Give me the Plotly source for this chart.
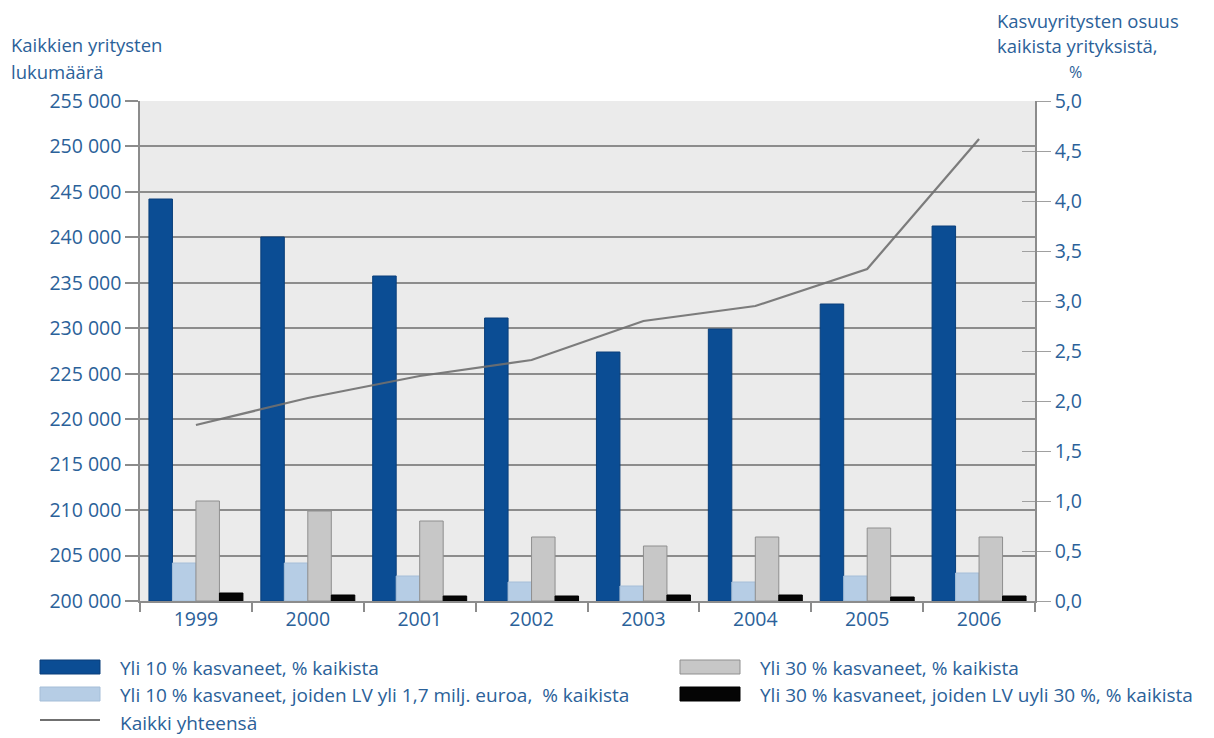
import plotly.graph_objects as go

years = ["1999", "2000", "2001", "2002", "2003", "2004", "2005", "2006"]
yli10 = [4.02, 3.64, 3.25, 2.83, 2.49, 2.72, 2.97, 3.75]
yli10_lv = [0.38, 0.38, 0.25, 0.19, 0.15, 0.19, 0.25, 0.28]
yli30 = [1.00, 0.90, 0.80, 0.64, 0.55, 0.64, 0.73, 0.64]
yli30_lv = [0.08, 0.06, 0.05, 0.05, 0.06, 0.06, 0.04, 0.05]
kaikki = [219360, 222330, 224750, 226510, 230800, 232450, 236520, 250820]

names = [
    "Yli 10 % kasvaneet, % kaikista",
    "Yli 10 % kasvaneet, joiden LV yli 1,7 milj. euroa,  % kaikista",
    "Yli 30 % kasvaneet, % kaikista",
    "Yli 30 % kasvaneet, joiden LV uyli 30 %, % kaikista",
    "Kaikki yhteensä",
]
colors = ["#0b4d94", "#b6cde5", "#c7c7c7", "#050505"]
outlines = ["#0a3f7a", "#a5bed8", "#8f8f8f", "#000000"]

W, H = 1214, 738
L, R, T, B = 140, 1035, 101, 601
TXT = "#2b6199"
FONT = "Open Sans"
GRID = "#8c8c8c"
FS = 19.5
TFS = 18.5
LFS = 19


def px(x):
    return (x - L) / (R - L)


def py(y):
    return (B - y) / (B - T)


fig = go.Figure()
for vals, nm, c, oc in zip([yli10, yli10_lv, yli30, yli30_lv], names[:4], colors, outlines):
    fig.add_trace(go.Bar(x=years, y=vals, name=nm, yaxis="y",
                         marker=dict(color=c, line=dict(color=oc, width=1)),
                         showlegend=False))

fig.add_trace(go.Scatter(x=years, y=kaikki, name=names[4], yaxis="y2",
                         mode="lines", line=dict(color="#707070", width=2.2),
                         opacity=0.9, showlegend=False))

fig.update_layout(
    width=W, height=H,
    margin=dict(l=L, r=W - R, t=T, b=H - B),
    paper_bgcolor="white", plot_bgcolor="#ebebeb",
    separators=", ",
    font=dict(family=FONT, size=FS, color=TXT),
    barmode="group", bargap=0.16, bargroupgap=0,
    xaxis=dict(type="category", showline=True, linecolor=GRID, linewidth=1.5,
               ticks="outside", tickson="boundaries", ticklen=9, tickcolor=GRID,
               tickwidth=1.5, showgrid=False, tickfont=dict(size=FS, color=TXT)),
    yaxis=dict(side="right", range=[0, 5], dtick=0.5, tickformat=".1f",
               showgrid=False, showline=True, linecolor=GRID, linewidth=1.5,
               ticks="outside", ticklen=14, tickcolor="#a0a0a0", tickwidth=1,
               tickfont=dict(size=FS, color=TXT), zeroline=False),
    yaxis2=dict(side="left", overlaying="y", range=[200000, 255000], dtick=5000,
                tickformat=",d", showgrid=True, gridcolor=GRID, gridwidth=1.5,
                showline=True, linecolor=GRID, linewidth=1.5,
                ticks="outside", ticklen=13, tickcolor=GRID, tickwidth=1.5,
                tickfont=dict(size=FS, color=TXT), zeroline=False),
    yaxis3=dict(side="right", overlaying="y", matches="y", range=[0, 5], dtick=0.5,
                showticklabels=False, showgrid=False, ticks="inside", ticklen=13,
                tickcolor="#a0a0a0", tickwidth=1, zeroline=False, showline=False),
)
# invisible helper trace to activate yaxis3 (inner right ticks)
fig.add_trace(go.Scatter(x=[years[0]], y=[0], yaxis="y3", mode="markers",
                         marker=dict(opacity=0), hoverinfo="skip", showlegend=False))

shapes = []
annotations = []


def label(text, x, y, anchor="left", size=FS):
    annotations.append(dict(x=px(x), y=py(y), xref="paper", yref="paper", xanchor=anchor,
                            yanchor="middle", text=text, showarrow=False,
                            font=dict(size=size, color=TXT)))


# axis titles
label("Kaikkien yritysten", 9, 45, size=TFS)
label("lukumäärä", 9, 72, size=TFS)
label("Kasvuyritysten osuus", 995, 20, size=TFS)
label("kaikista yrityksistä,", 995, 46, size=TFS)
label("%", 1075, 72, anchor="center", size=16)

# legend (manual)
legend_items = [
    (0, 40, 100, 118, 668),
    (1, 40, 100, 118, 695),
    (2, 680, 740, 758, 668),
    (3, 680, 740, 758, 695),
]
for idx, x0, x1, tx, ty in legend_items:
    shapes.append(dict(type="rect", xref="paper", yref="paper",
                       x0=px(x0), x1=px(x1), y0=py(ty - 8), y1=py(ty + 6),
                       fillcolor=colors[idx], line=dict(color=outlines[idx], width=1)))
    label(names[idx], tx, ty, size=LFS)
shapes.append(dict(type="line", xref="paper", yref="paper", x0=px(40), x1=px(100),
                   y0=py(720), y1=py(720), line=dict(color="#707070", width=2.2)))
label(names[4], 118, 723, size=LFS)

fig.update_layout(shapes=shapes, annotations=annotations)
fig.write_html("out.html")
